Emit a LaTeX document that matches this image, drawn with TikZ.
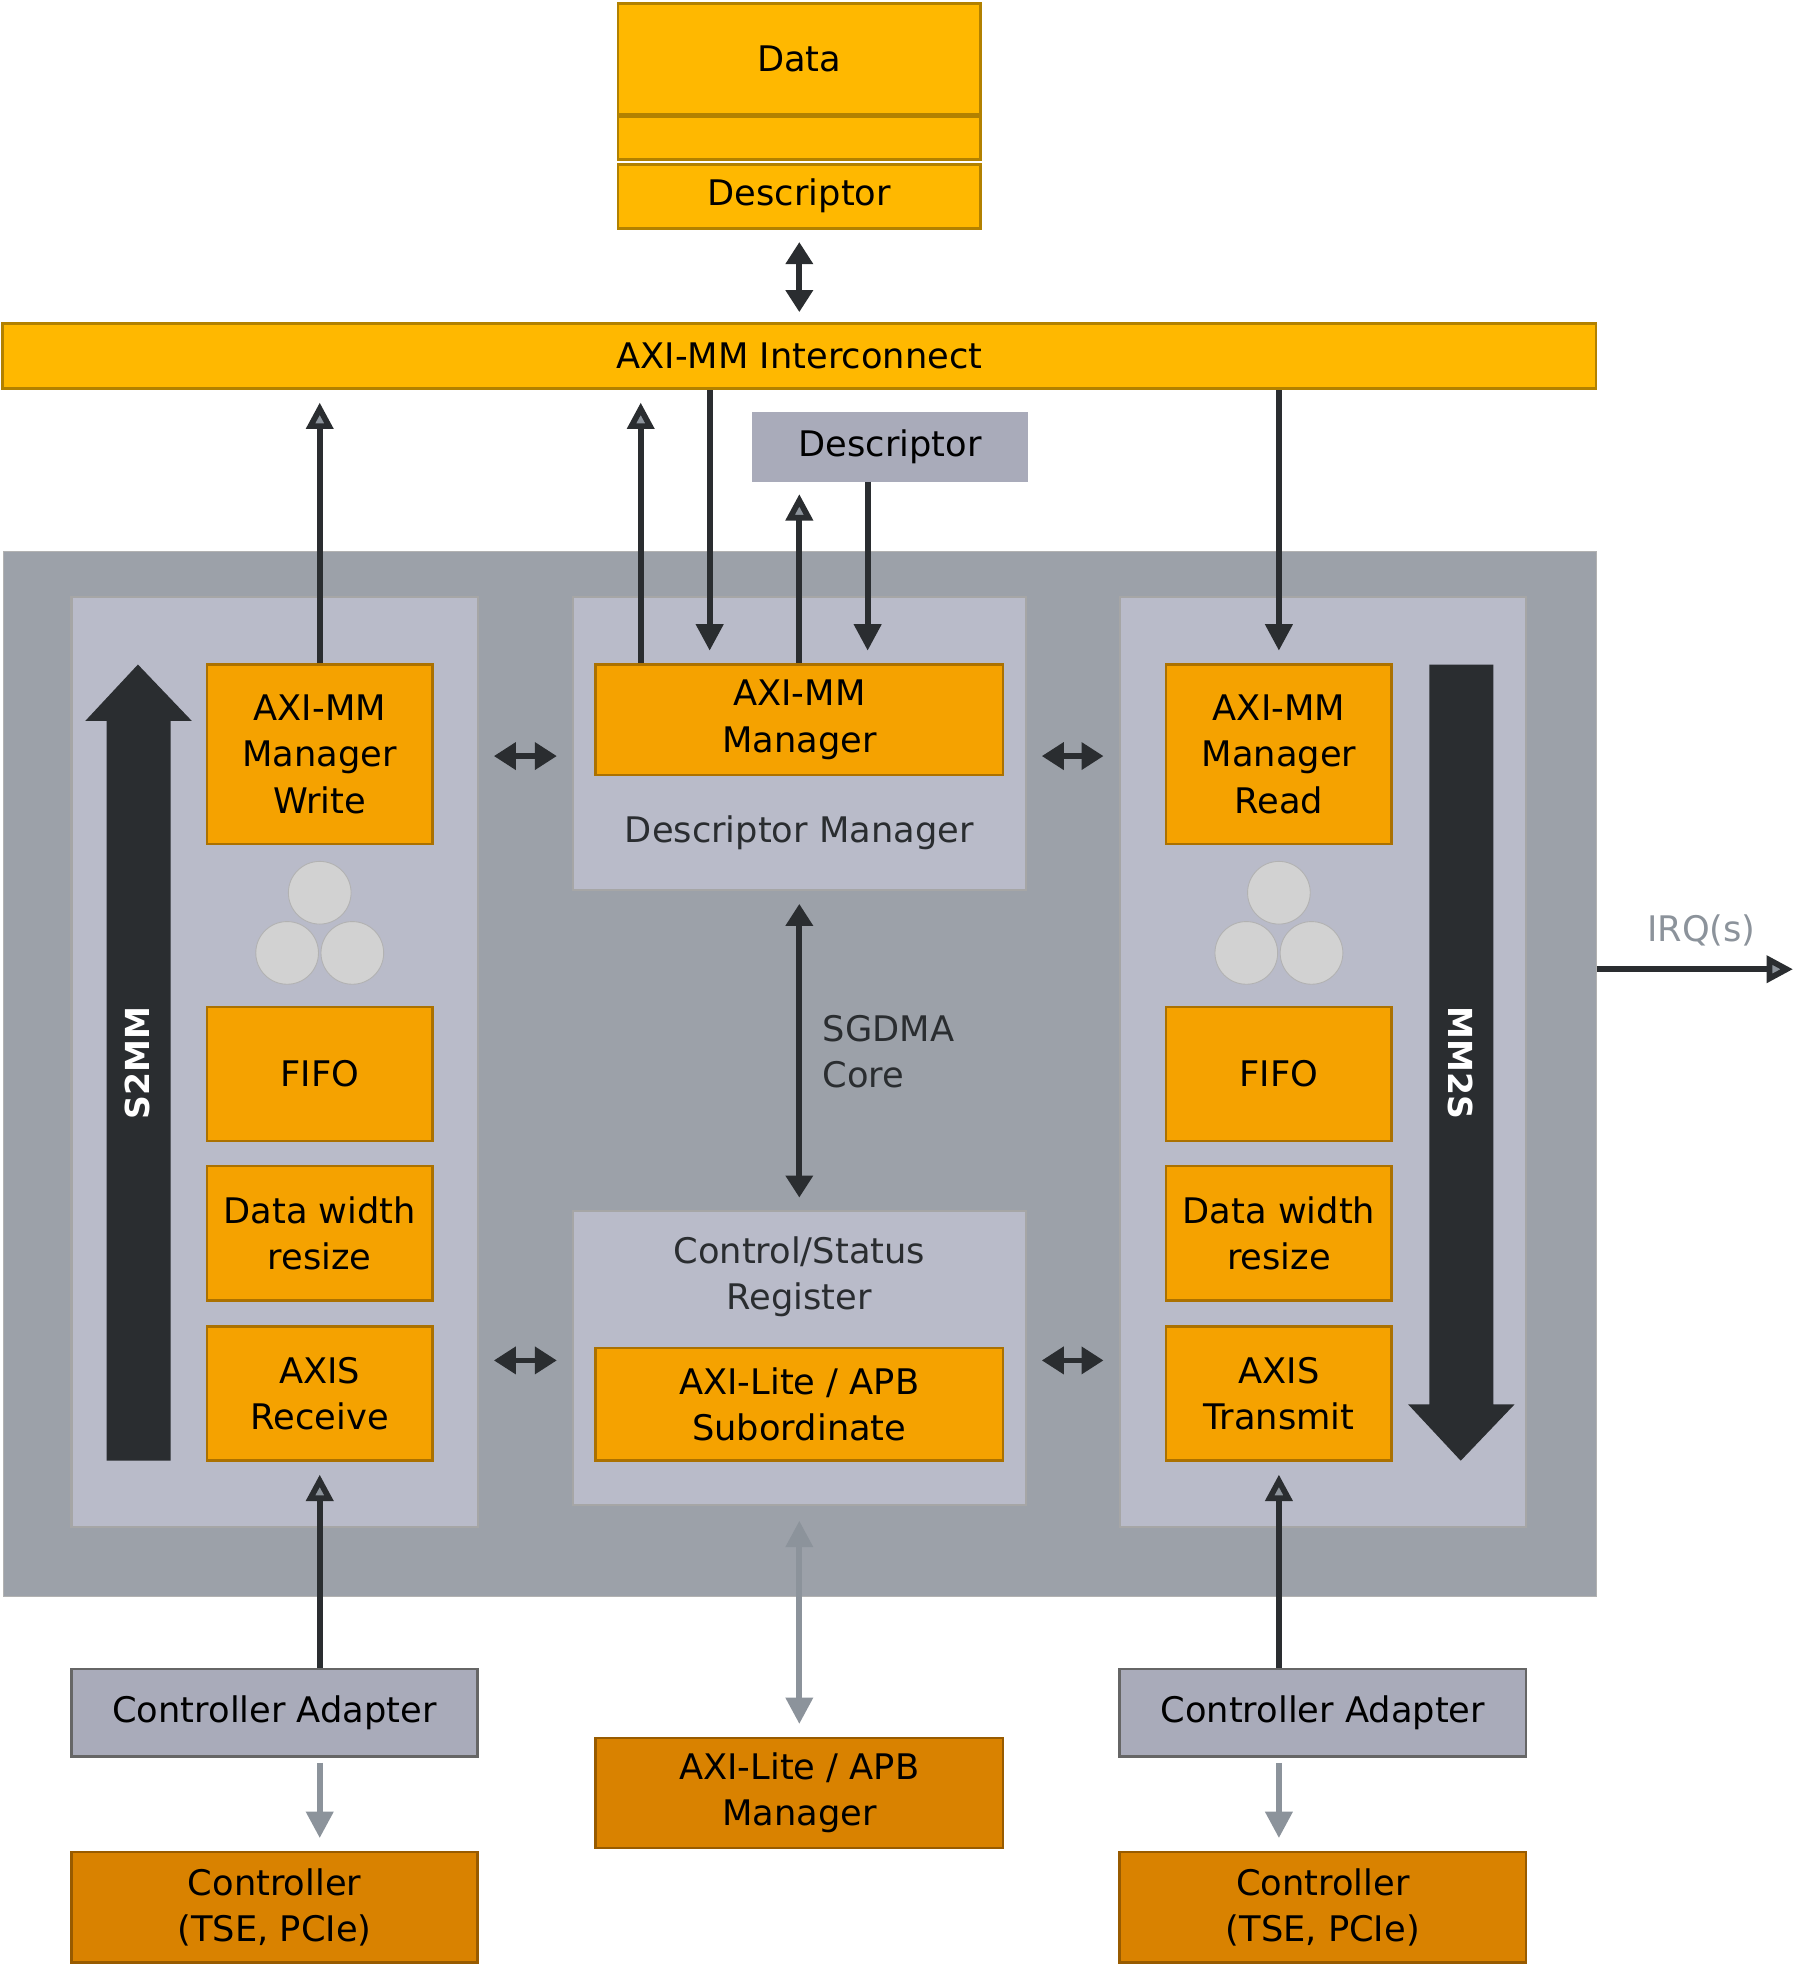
\documentclass[tikz,border=0pt]{standalone}
\usepackage{fontspec}
\setmainfont{DejaVu Sans}
\usetikzlibrary{arrows.meta}
\def\u{0.02cm}
\definecolor{ylw}{HTML}{FFB800}
\definecolor{org}{HTML}{F5A200}
\definecolor{dorg}{HTML}{D98200}
\definecolor{bgg}{HTML}{9CA1A9}
\definecolor{pnl}{HTML}{B9BBC9}
\definecolor{gbox}{HTML}{A9ABBA}
\definecolor{drk}{HTML}{2A2D30}
\definecolor{lgr}{HTML}{8C939B}
\tikzset{
  box/.style={draw=#1!70!black, fill=#1, line width=1.2pt, align=center, font=\fontsize{16}{21}\selectfont, inner sep=0pt},
  box/.default=org,
  panel/.style={draw=gray!70, fill=pnl, line width=1pt},
  dkarrow/.style={draw=drk, line width=2.6pt, -{Triangle[length=12pt,width=12pt,fill=lgr]}},
  grarrow/.style={draw=lgr, line width=2.6pt, -{Triangle[length=12pt,width=12pt,fill=lgr]}},
  dbl/.style={draw=drk, line width=2.6pt, {Triangle[length=10pt,width=12pt]}-{Triangle[length=10pt,width=12pt]}},
  lbl/.style={font=\fontsize{16}{21}\selectfont, align=center, text=drk}
}
\begin{document}
\begin{tikzpicture}[x=\u, y=-\u]
\useasboundingbox (0,0) rectangle (1432,1568);

%% memory at the top
\node[box=ylw, minimum width=289*\u, minimum height=88*\u] at (637.5,47) (data) {Data};
\node[box=ylw, minimum width=289*\u, minimum height=34*\u] at (637.5,110) (stripe) {};
\node[box=ylw, minimum width=289*\u, minimum height=51*\u] at (637.5,156.5) (mdesc) {Descriptor};
\node[box=ylw, minimum width=1271*\u, minimum height=52*\u] at (637.5,284) (inter) {AXI-MM Interconnect};
\draw[dbl] (mdesc.south) ++(0,10) -- ([yshift=8*\u]inter.north);

%% the core
\node[draw=gray!60, fill=bgg, minimum width=1270*\u, minimum height=833*\u] at (638,856.5) (core) {};
\node[box=gbox, minimum width=218*\u, minimum height=53*\u, draw=gbox] at (710,356.5) (desc) {Descriptor};

\node[panel, minimum width=324*\u, minimum height=742*\u] at (219,847) (lpanel) {};
\node[panel, minimum width=324*\u, minimum height=742*\u] at (1055,847) (rpanel) {};
\node[panel, minimum width=361*\u, minimum height=234*\u] at (637.5,593) (mtop) {};
\node[panel, minimum width=361*\u, minimum height=234*\u] at (637.5,1083) (mbot) {};

%% S2MM channel
\foreach \x/\s in {255/l, 1020/r}{%
  \node[box, minimum width=180*\u, minimum height=107*\u] at (\x,856.5) (\s fifo) {FIFO};
  \node[box, minimum width=180*\u, minimum height=107*\u] at (\x,983.5) (\s res) {Data width\\resize};
  \foreach \cx/\cy in {0/712, -26/760, 26/760}{%
    \fill[gray!35, draw=gray!60] (\x+\cx,\cy) circle (25*\u);
  }
}
\node[box, minimum width=180*\u, minimum height=143*\u] at (255,601.5) (lw) {AXI-MM\\Manager\\Write};
\node[box, minimum width=180*\u, minimum height=107*\u] at (255,1111.5) (lrx) {AXIS\\Receive};
\node[box, minimum width=180*\u, minimum height=143*\u] at (1020,601.5) (rr) {AXI-MM\\Manager\\Read};
\node[box, minimum width=180*\u, minimum height=107*\u] at (1020,1111.5) (rtx) {AXIS\\Transmit};

%% direction arrows
\fill[drk] (85,1165) -- (136,1165) -- (136,575) -- (153,575) -- (110,530) -- (68,575) -- (85,575) -- cycle;
\fill[drk] (1140,530) -- (1191,530) -- (1191,1120) -- (1208,1120) -- (1165,1165) -- (1123,1120) -- (1140,1120) -- cycle;
\node[rotate=90, text=white, font=\bfseries\fontsize{15}{20}\selectfont] at (110,848) (s2mm) {S2MM};
\node[rotate=-90, text=white, font=\bfseries\fontsize{15}{20}\selectfont] at (1165,848) (mm2s) {MM2S};

%% middle
\node[box, minimum width=325*\u, minimum height=88*\u] at (637.5,574) (mmgr) {AXI-MM\\Manager};
\node[lbl] at (637.5,664) (dmlbl) {Descriptor Manager};
\node[lbl] at (637.5,1018) (csr) {Control/Status\\Register};
\node[box, minimum width=325*\u, minimum height=90*\u] at (637.5,1120) (msub) {AXI-Lite / APB\\Subordinate};
\node[lbl, anchor=west, align=left] at (650,839) (sgdma) {SGDMA\\Core};

%% bottom
\node[box=gbox, draw=gray!80!black, minimum width=324*\u, minimum height=70*\u] at (219,1366) (ladp) {Controller Adapter};
\node[box=gbox, draw=gray!80!black, minimum width=324*\u, minimum height=70*\u] at (1055,1366) (radp) {Controller Adapter};
\node[box=dorg, minimum width=325*\u, minimum height=88*\u] at (637.5,1430) (apbm) {AXI-Lite / APB\\Manager};
\node[box=dorg, minimum width=324*\u, minimum height=88*\u] at (219,1521) (lctl) {Controller\\(TSE, PCIe)};
\node[box=dorg, minimum width=324*\u, minimum height=88*\u] at (1055,1521) (rctl) {Controller\\(TSE, PCIe)};

\coordinate (irq) at (1430,773);
\node[lbl, text=lgr] at (1357,742) (irqlbl) {IRQ(s)};

%% connectors
\draw[dkarrow] (lw.north) -- ([yshift=-10*\u]lw.north |- inter.south);
\draw[dkarrow] ([xshift=-126.5*\u]mmgr.north) -- ([xshift=-126.5*\u, yshift=-10*\u]mmgr.north |- inter.south);
\draw[dkarrow, -{Triangle[length=12pt,width=12pt]}] ([xshift=-71.5*\u]mmgr.north |- inter.south) -- ([xshift=-71.5*\u, yshift=10*\u]mmgr.north);
\draw[dkarrow] (mmgr.north) -- ([yshift=-10*\u]desc.south -| mmgr.north);
\draw[dkarrow, -{Triangle[length=12pt,width=12pt]}] (desc.south -| 692,0) -- ([yshift=10*\u]mmgr.north -| 692,0);
\draw[dkarrow, -{Triangle[length=12pt,width=12pt]}] (rr.north |- inter.south) -- ([yshift=10*\u]rr.north);

\draw[dbl] ([xshift=12*\u]lpanel.east |- 0,603) -- ([xshift=-12*\u]mtop.west |- 0,603);
\draw[dbl] ([xshift=12*\u]mtop.east |- 0,603) -- ([xshift=-12*\u]rpanel.west |- 0,603);
\draw[dbl] ([xshift=12*\u]lpanel.east |- 0,1085) -- ([xshift=-12*\u]mbot.west |- 0,1085);
\draw[dbl] ([xshift=12*\u]mbot.east |- 0,1085) -- ([xshift=-12*\u]rpanel.west |- 0,1085);
\draw[dbl] ([yshift=-10*\u]mtop.south) -- ([yshift=10*\u]mbot.north);

\draw[dkarrow] (ladp.north -| lw) -- ([yshift=-10*\u]lrx.south);
\draw[dkarrow] (radp.north -| rr) -- ([yshift=-10*\u]rtx.south);
\draw[grarrow, {Triangle[length=12pt,width=12pt,fill=lgr]}-{Triangle[length=12pt,width=12pt,fill=lgr]}] ([yshift=-12*\u]mbot.south) -- ([yshift=10*\u]apbm.north);
\draw[grarrow] ([yshift=-4*\u]ladp.south -| lw) -- ([yshift=10*\u]lctl.north -| lw);
\draw[grarrow] ([yshift=-4*\u]radp.south -| rr) -- ([yshift=10*\u]rctl.north -| rr);
\draw[dkarrow] (core.east |- irq) -- (irq);

\end{tikzpicture}
\end{document}
